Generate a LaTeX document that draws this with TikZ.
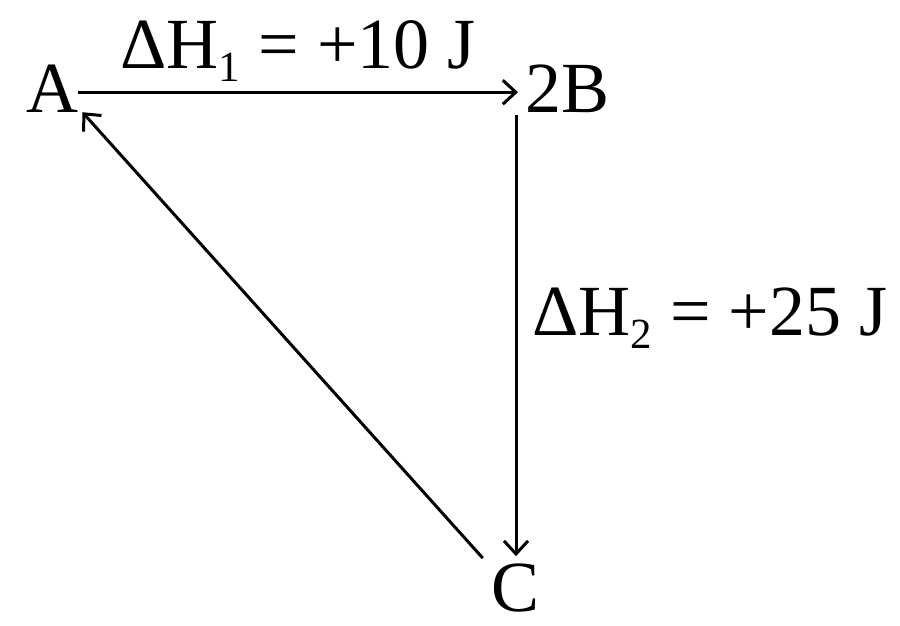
\documentclass[tikz,border=0pt]{standalone}
\usepackage{fontspec}
\setmainfont{Liberation Serif}
\usetikzlibrary{positioning, calc, arrows.meta}

\newcommand{\enthsub}[1]{\raisebox{-13pt}{\fontsize{43}{43}\selectfont #1}}

\tikzset{
  species/.style={inner sep=0pt, font=\fontsize{72}{80}\selectfont},
  enthalpy/.style={inner sep=0pt, font=\fontsize{72}{80}\selectfont},
  rxn/.style={line width=3pt, -{Straight Barb[length=13pt,width=24pt,line width=3pt]}}
}

\begin{document}
\begin{tikzpicture}[x=1pt,y=-1pt]
			\useasboundingbox (0,0) rectangle (900,626);
			\node[species,anchor=base west] (a) at (26,113) {A};
			\node[species,anchor=base west] (b) at (525,113) {2B};
			\node[species,anchor=base] (c) at (516,611) {C};
			\draw[rxn] ([yshift=-3pt]a.east) -- node[enthalpy,anchor=base,yshift=24pt]{ΔH\enthsub{1} = +10 J}
				([xshift=-7pt,yshift=-3pt]a.east -| b.west);
			\draw[rxn] ([yshift=-2pt]b.south -| c.north) -- node[enthalpy,anchor=base west,xshift=15pt,pos=0.5]{ΔH\enthsub{2} = +25 J}
				([yshift=7pt]c.north);
			\draw[rxn] ([xshift=-9pt,yshift=5pt]c.north west) -- ([xshift=4pt,yshift=1pt]a.south east);
  		\end{tikzpicture}
\end{document}
